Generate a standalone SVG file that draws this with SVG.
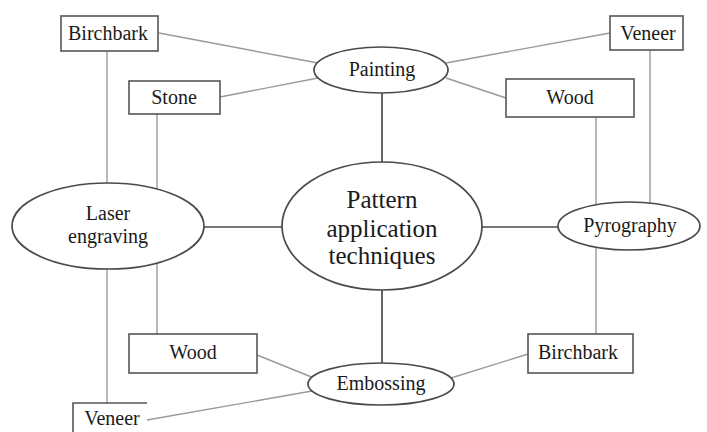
<svg xmlns="http://www.w3.org/2000/svg" width="707" height="432" viewBox="0 0 707 432">
<style>
  .bg{fill:#ffffff}
  .thin{stroke:#9a9a9a;stroke-width:1.4;fill:none}
  .main{stroke:#4a4a4a;stroke-width:1.7;fill:none}
  .ell{fill:#ffffff;stroke:#4a4a4a;stroke-width:1.7}
  .box{fill:#ffffff;stroke:#555555;stroke-width:1.6}
  text{font-family:"Liberation Serif","Times New Roman",serif;fill:#1a1a1a;text-anchor:middle}
  .t{font-size:20px}
  .tc{font-size:25px}
</style>
<rect class="bg" x="0" y="0" width="707" height="432"/>
<g id="connectors">
  <line class="thin" x1="159" y1="33" x2="318" y2="63"/>
  <line class="thin" x1="220" y1="97" x2="318" y2="78"/>
  <line class="thin" x1="610" y1="33" x2="446" y2="63"/>
  <line class="thin" x1="446" y1="78" x2="506" y2="98"/>
  <line class="thin" x1="107" y1="51" x2="107" y2="403"/>
  <line class="thin" x1="157" y1="114" x2="157" y2="334"/>
  <line class="thin" x1="596" y1="117" x2="596" y2="334"/>
  <line class="thin" x1="650" y1="50" x2="650" y2="210"/>
  <line class="thin" x1="257" y1="355" x2="314" y2="378"/>
  <line class="thin" x1="147" y1="420" x2="312" y2="391"/>
  <line class="thin" x1="528" y1="354" x2="451" y2="378"/>
  <line class="main" x1="382" y1="92" x2="382" y2="162"/>
  <line class="main" x1="204" y1="227" x2="282" y2="227"/>
  <line class="main" x1="482" y1="227" x2="558" y2="227"/>
  <line class="main" x1="382" y1="290" x2="382" y2="363"/>
</g>
<g id="center">
  <ellipse class="ell" cx="382" cy="226" rx="100" ry="64"/>
  <text class="tc" x="382" y="208">Pattern</text>
  <text class="tc" x="382" y="237">application</text>
  <text class="tc" x="382" y="264">techniques</text>
</g>
<g id="painting">
  <ellipse class="ell" cx="381" cy="70" rx="67" ry="23"/>
  <text class="t" x="382" y="76">Painting</text>
</g>
<g id="laser">
  <ellipse class="ell" cx="108" cy="226" rx="96" ry="43"/>
  <text class="t" x="108" y="220">Laser</text>
  <text class="t" x="108" y="243">engraving</text>
</g>
<g id="pyrography">
  <ellipse class="ell" cx="629" cy="226" rx="71" ry="24"/>
  <text class="t" x="630" y="232">Pyrography</text>
</g>
<g id="embossing">
  <ellipse class="ell" cx="381" cy="384" rx="73" ry="21"/>
  <text class="t" x="381" y="390">Embossing</text>
</g>
<g id="birchbark-top">
  <rect class="box" x="61" y="16" width="97" height="35"/>
  <text class="t" x="108" y="40">Birchbark</text>
</g>
<g id="stone">
  <rect class="box" x="129" y="81" width="91" height="33"/>
  <text class="t" x="174" y="104">Stone</text>
</g>
<g id="veneer-top">
  <rect class="box" x="610" y="16" width="73" height="34"/>
  <text class="t" x="648" y="40">Veneer</text>
</g>
<g id="wood-top">
  <rect class="box" x="506" y="79" width="128" height="38"/>
  <text class="t" x="570" y="104">Wood</text>
</g>
<g id="wood-bottom">
  <rect class="box" x="129" y="334" width="128" height="39"/>
  <text class="t" x="193" y="359">Wood</text>
</g>
<g id="birchbark-bottom">
  <rect class="box" x="528" y="334" width="105" height="39"/>
  <text class="t" x="578" y="359">Birchbark</text>
</g>
<g id="veneer-bottom">
  <path class="box" d="M73,440 L73,403 L147,403"/>
  <text class="t" x="112" y="425">Veneer</text>
</g>
</svg>
